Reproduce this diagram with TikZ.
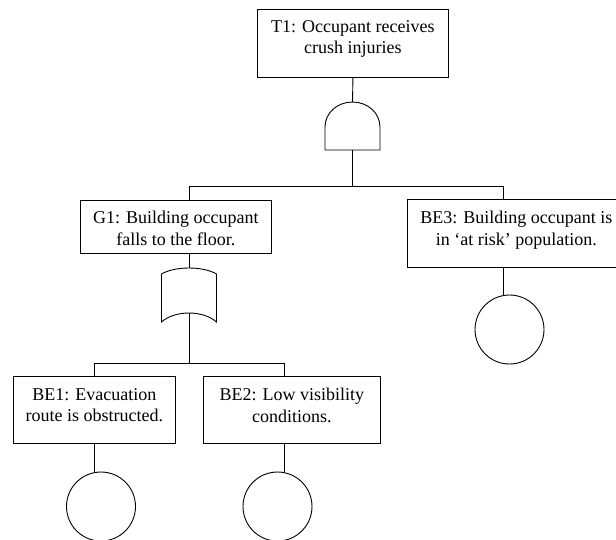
\documentclass[tikz,border=0pt]{standalone}
\usepackage{fontspec}
\setmainfont{Liberation Serif}
\begin{document}
\begin{tikzpicture}[x=1pt,y=-1pt, line width=0.9pt,
  box/.style={draw, rectangle, inner sep=0pt, anchor=north west},
  lbl/.style={anchor=north, inner sep=0pt, align=center, font=\fontsize{18}{21.5}\selectfont},
  basic/.style={draw, circle, minimum size=69pt, inner sep=0pt}]
\clip (0,0) rectangle (616,539);
% boxes
\node[box, minimum width=191pt, minimum height=68pt] (t1) at (257,9) {};
\node[lbl] (t1t) at ([yshift=-11pt]t1.north) {T1: Occupant receives\\crush injuries};
\node[box, minimum width=191pt, minimum height=53pt] (g1) at (80,200) {};
\node[lbl] (g1t) at ([yshift=-11pt]g1.north) {G1: Building occupant\\falls to the floor.};
\node[box, minimum width=218pt, minimum height=68pt] (be3) at (407,199) {};
\node[lbl] (be3t) at ([yshift=-12pt]be3.north) {BE3: Building occupant is\\in `at risk' population.};
\node[box, minimum width=162pt, minimum height=67pt] (be1) at (13,376) {};
\node[lbl] (be1t) at ([yshift=-12pt]be1.north) {BE1: Evacuation\\route is obstructed.};
\node[box, minimum width=177pt, minimum height=67pt] (be2) at (203,376) {};
\node[lbl] (be2t) at ([yshift=-12pt]be2.north) {BE2: Low visibility\\conditions.};
% basic event circles
\node[basic] (c3) at (509.5,329.5) {};
\node[basic] (c1) at (101,506.5) {};
\node[basic] (c2) at (277.5,506.5) {};
% gates
\coordinate (andtop) at (352.5,102);
\coordinate (andbot) at (352.5,150);
\draw (325,150) -- (325,127) .. controls (325,113) and (337.3,102) .. (andtop)
      .. controls (367.7,102) and (380,113) .. (380,127) -- (380,150) -- cycle;
\coordinate (ortop) at (189,268);
\coordinate (orbot) at (189,313);
\draw (161.5,274) .. controls (175,266) and (203,266) .. (216.5,274) -- (216.5,322)
      .. controls (203,310) and (175,310) .. (161.5,322) -- cycle;
% junctions
\coordinate (j1) at (352.5,186);
\coordinate (j1l) at (189,186);
\coordinate (j1r) at (503,186);
\coordinate (j2) at (189,363);
\coordinate (j2l) at (94,363);
\coordinate (j2r) at (284,363);
% connectors
\draw (t1.south) -- (andtop);
\draw (andbot) -- (j1);
\draw (j1l |- g1.north) -- (j1l) -- (j1r) -- (j1r |- be3.north);
\draw (ortop |- g1.south) -- (ortop);
\draw (orbot) -- (j2);
\draw (j2l |- be1.north) -- (j2l) -- (j2r) -- (j2r |- be2.north);
\draw (j2l |- be1.south) -- (j2l |- c1.north);
\draw (j2r |- be2.south) -- (j2r |- c2.north);
\draw (j1r |- be3.south) -- (j1r |- c3.north);
\end{tikzpicture}
\end{document}
